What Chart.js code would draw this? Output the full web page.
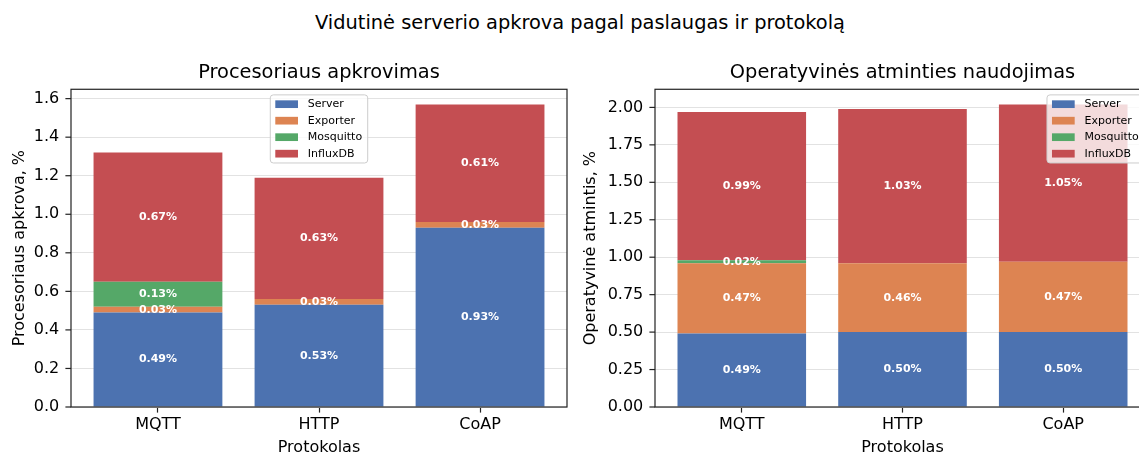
<!DOCTYPE html>
<html>
<head>
<meta charset="utf-8">
<script src="https://cdn.jsdelivr.net/npm/chart.js@4"></script>
<style>
  html, body { margin: 0; padding: 0; background: #fff; overflow: hidden; }
  body { width: 1139px; height: 457px; position: relative; }
  #suptitle {
    position: absolute; left: 0; top: 11px; width: 1160px;
    text-align: center; font: 19.4px "DejaVu Sans"; line-height: 23px; color: #000;
  }
  #cpu { position: absolute; left: 0; top: 0; }
  #mem { position: absolute; left: 570px; top: 0; }
</style>
</head>
<body>
<div id="suptitle">Vidutinė serverio apkrova pagal paslaugas ir protokolą</div>
<canvas id="cpu" width="570" height="457"></canvas>
<canvas id="mem" width="600" height="457"></canvas>
<script>
const protocols = ['MQTT', 'HTTP', 'CoAP'];
const services = ['Server', 'Exporter', 'Mosquitto', 'InfluxDB'];
const colors = ['#4C72B0', '#DD8452', '#55A868', '#C44E52'];

// CPU load, %
const cpuServer = [0.49, 0.53, 0.93];
const cpuExporter = [0.03, 0.03, 0.03];
const cpuMosquitto = [0.13, 0, 0];
const cpuInflux = [0.67, 0.63, 0.61];

// RAM usage, %
const memServer = [0.49, 0.50, 0.50];
const memExporter = [0.47, 0.46, 0.47];
const memMosquitto = [0.02, 0, 0];
const memInflux = [0.99, 1.03, 1.05];

const cpuTickLabels = ['0.0', '0.2', '0.4', '0.6', '0.8', '1.0', '1.2', '1.4', '1.6'];
const memTickLabels = ['0.00', '0.25', '0.50', '0.75', '1.00', '1.25', '1.50', '1.75', '2.00'];

Chart.defaults.font.family = '"DejaVu Sans", sans-serif';
Chart.defaults.color = '#000';
Chart.defaults.animation = false;

// major ticks from labels, minor ones halfway between
function buildTicks(labels) {
  const majors = labels.map(Number);
  const list = majors.map((v, i) => ({ value: v, isMajor: true, label: labels[i] }));
  for (let i = 0; i < majors.length - 1; i++) {
    list.push({ value: (majors[i] + majors[i + 1]) / 2, isMajor: false, label: '' });
  }
  return list.sort((a, b) => a.value - b.value);
}

const barLabels = {
  id: 'barLabels',
  afterDatasetsDraw(chart) {
    const ctx = chart.ctx;
    ctx.save();
    ctx.font = 'bold 11px "DejaVu Sans"';
    ctx.fillStyle = '#fff';
    ctx.textAlign = 'center';
    ctx.textBaseline = 'middle';
    chart.data.datasets.forEach((ds, di) => {
      chart.getDatasetMeta(di).data.forEach((bar, i) => {
        const v = ds.data[i].y;
        if (!v) return;
        ctx.fillText(v.toFixed(2) + '%', bar.x, (bar.y + bar.base) / 2);
      });
    });
    ctx.restore();
  }
};

const frame = {
  id: 'frame',
  afterDraw(chart) {
    const { ctx, chartArea: a } = chart;
    const s = chart.scales.y;
    ctx.save();
    ctx.strokeStyle = '#222';
    ctx.lineWidth = 1.2;
    // y tick marks, long for major, short for minor
    s.ticks.forEach(t => {
      const y = s.getPixelForValue(t.value);
      const len = t.isMajor ? 5.6 : 3.2;
      ctx.beginPath();
      ctx.moveTo(a.left - len, y);
      ctx.lineTo(a.left, y);
      ctx.stroke();
    });
    ctx.strokeRect(a.left, a.top, a.right - a.left, a.bottom - a.top);
    ctx.restore();
  }
};

const boxLegend = {
  id: 'boxLegend',
  afterDraw(chart, args, opts) {
    const { ctx, chartArea: a } = chart;
    const pad = 5.6, row = 16.5, first = 9.3, patchW = 22.7, patchH = 7.7, textX = 37.5;
    const items = chart.data.datasets;
    ctx.save();
    ctx.font = '11px "DejaVu Sans"';
    const tw = Math.max(...items.map(d => ctx.measureText(d.label).width));
    const w = textX + tw + pad;
    const h = first * 2 + (items.length - 1) * row;
    const left = opts.align === 'right' ? a.right - pad - w : (a.left + a.right) / 2 - w / 2;
    const top = a.top + pad;
    ctx.beginPath();
    ctx.roundRect(left, top, w, h, 3);
    ctx.fillStyle = 'rgba(255,255,255,0.8)';
    ctx.fill();
    ctx.strokeStyle = '#cccccc';
    ctx.lineWidth = 1;
    ctx.stroke();
    items.forEach((d, i) => {
      const cy = top + first + i * row;
      ctx.fillStyle = d.backgroundColor;
      ctx.fillRect(left + 5, cy - patchH / 2, patchW, patchH);
      ctx.fillStyle = '#000';
      ctx.textAlign = 'left';
      ctx.textBaseline = 'middle';
      ctx.fillText(d.label, left + textX, cy);
    });
    ctx.restore();
  }
};

function makeChart(id, cfg) {
  return new Chart(document.getElementById(id), {
    type: 'bar',
    data: {
      datasets: services.map((name, k) => ({
        label: name,
        data: cfg.series[k].map((v, i) => ({ x: i, y: v })),
        backgroundColor: colors[k],
        borderWidth: 0,
        barPercentage: 0.8,
        categoryPercentage: 1
      }))
    },
    options: {
      responsive: false,
      layout: { padding: { left: 0, right: cfg.padRight, top: 0, bottom: 0 } },
      plugins: {
        legend: { display: false },
        tooltip: { enabled: false },
        title: {
          display: true,
          text: cfg.title,
          fullSize: false,
          color: '#000',
          font: { size: 19.4, weight: 'normal' },
          padding: { top: 61, bottom: 5 }
        },
        boxLegend: { align: cfg.legendAlign }
      },
      scales: {
        x: {
          type: 'linear',
          min: -0.54,
          max: 2.54,
          offset: false,
          stacked: true,
          afterBuildTicks: s => { s.ticks = protocols.map((p, i) => ({ value: i })); },
          afterFit: s => { s.height = 50; },
          ticks: { callback: v => protocols[v], font: { size: 16 }, padding: 3, autoSkip: false, maxRotation: 0 },
          grid: { offset: false, drawOnChartArea: false, drawTicks: true, tickLength: 5.6, tickColor: '#222', tickWidth: 1.2 },
          border: { display: false },
          title: { display: true, text: 'Protokolas', font: { size: 16 }, padding: { top: 0, bottom: 0 } }
        },
        y: {
          stacked: true,
          min: 0,
          max: cfg.yMax,
          afterBuildTicks: s => { s.ticks = buildTicks(cfg.tickLabels); },
          afterFit: s => { s.width = cfg.axisWidth; },
          ticks: { callback: (v, i, t) => t[i].label, padding: 11.7, font: { size: 16 } },
          grid: {
            drawTicks: false,
            lineWidth: 1,
            color: c => (c.tick && c.tick.isMajor ? '#e2e2e2' : '#f1f1f1')
          },
          border: { display: false },
          title: { display: true, text: cfg.yTitle, font: { size: 16 }, padding: { top: cfg.yTitlePad, bottom: 0 } }
        }
      }
    },
    plugins: [barLabels, frame, boxLegend]
  });
}

makeChart('cpu', {
  title: 'Procesoriaus apkrovimas',
  yTitle: 'Procesoriaus apkrova, %',
  series: [cpuServer, cpuExporter, cpuMosquitto, cpuInflux],
  tickLabels: cpuTickLabels,
  yMax: 1.6485,
  axisWidth: 71,
  yTitlePad: 10.4,
  padRight: 3,
  legendAlign: 'center'
});

makeChart('mem', {
  title: 'Operatyvinės atminties naudojimas',
  yTitle: 'Operatyvinė atmintis, %',
  series: [memServer, memExporter, memMosquitto, memInflux],
  tickLabels: memTickLabels,
  yMax: 2.121,
  axisWidth: 85,
  yTitlePad: 11.4,
  padRight: 20,
  legendAlign: 'right'
});
</script>
</body>
</html>
